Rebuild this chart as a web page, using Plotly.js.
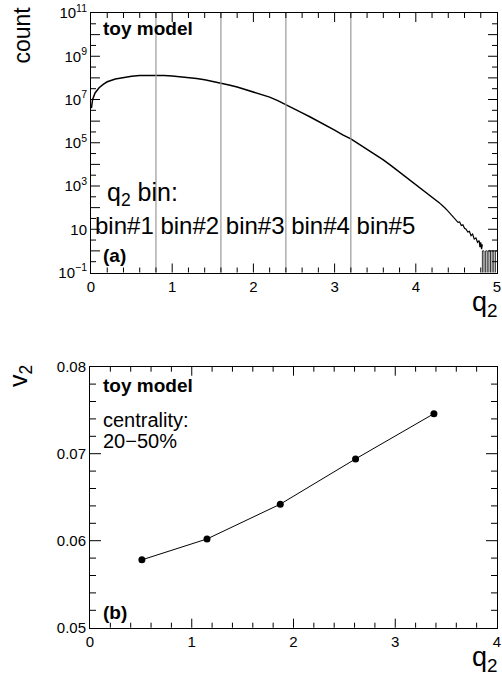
<!DOCTYPE html>
<html>
<head>
<meta charset="utf-8">
<script src="https://cdn.plot.ly/plotly-3.0.1.min.js"></script>
<style>html,body{margin:0;padding:0;background:#fff;}#chart{width:502px;height:682px;}</style>
</head>
<body>
<div id="chart"></div>
<script>
// ---- Panel (a): q2 distribution (counts) ----
const q2Smooth = [0.005, 0.02, 0.05, 0.1, 0.15, 0.2, 0.3, 0.4, 0.5, 0.6, 0.7, 0.8, 0.9, 1.0,
  1.1, 1.2, 1.3, 1.4, 1.5, 1.6, 1.7, 1.8, 1.9, 2.0, 2.1, 2.2, 2.3, 2.4, 2.5, 2.6, 2.7, 2.8,
  2.9, 3.0, 3.1, 3.2, 3.3, 3.4, 3.5, 3.6, 3.7, 3.8, 3.9, 4.0, 4.1, 4.2, 4.3];
const countSmooth = [4.0e6, 1.0e7, 2.0e7, 3.5e7, 5.0e7, 6.6e7, 8.9e7, 1.07e8, 1.20e8, 1.29e8, 1.32e8, 1.32e8, 1.29e8, 1.23e8,
  1.15e8, 1.05e8, 9.3e7, 8.1e7, 6.9e7, 5.8e7, 4.7e7, 3.8e7, 2.95e7, 2.3e7, 1.74e7, 1.29e7, 8.9e6, 5.9e6, 3.7e6, 2.4e6, 1.55e6, 1.0e6,
  6.2e5, 3.8e5, 2.3e5, 1.5e5, 8.7e4, 5.1e4, 2.9e4, 1.6e4, 8.5e3, 4.4e3, 2.2e3, 1.1e3, 600, 310, 155];
// noisy falling tail
const q2Noisy = [4.30, 4.32, 4.34, 4.36, 4.38, 4.40, 4.42, 4.44, 4.46, 4.48, 4.50, 4.52, 4.54, 4.56, 4.58,
  4.60, 4.62, 4.64, 4.66, 4.68, 4.70, 4.72, 4.74, 4.76, 4.78, 4.79, 4.80, 4.81, 4.82];
const countNoisy = [155, 135, 118, 96, 80, 66, 55, 44, 39, 30, 27, 21, 22, 15, 16,
  11, 10, 7.5, 8, 5, 6, 3.5, 4, 2.5, 3, 1.5, 2.5, 1.2, 2];
// sparse last bins (count 1 or empty)
const q2Sparse = [4.82, 4.84, 4.86, 4.88, 4.90, 4.92, 4.94, 4.96, 4.98, 5.00];
const countSparse = [0, 1, 0, 1, 0, 1, 0, 1, 0, 1];
const binEdges = [0.8, 1.6, 2.4, 3.2];
const logTickPowers = [-1, 0, 1, 2, 3, 4, 5, 6, 7, 8, 9, 10, 11];
const logTickLabels = ["10<sup>\u22121</sup>", "", "10", "", "10<sup>3</sup>", "", "10<sup>5</sup>", "",
  "10<sup>7</sup>", "", "10<sup>9</sup>", "", "10<sup>11</sup>"];

// ---- Panel (b): v2 vs q2 ----
const q2Mean = [0.51, 1.15, 1.87, 2.61, 3.38];
const v2Values = [0.0578, 0.0602, 0.0642, 0.0694, 0.0746];

const W = 502, H = 682;
const fx = p => p / W;
const fy = p => 1 - p / H;
const FONT = "Liberation Sans, Arial, Helvetica, sans-serif";
const ZERO_FLOOR = 1e-3; // empty bins drop below the axis floor

// panel frames in pixels
const TOP = {l: 91, r: 497, t: 13, b: 272.5};
const BOT = {l: 90, r: 497, t: 366.7, b: 627.7};

const traces = [
  {x: q2Smooth, y: countSmooth, xaxis: 'x', yaxis: 'y', mode: 'lines',
   line: {color: '#000', width: 1.5}, hoverinfo: 'skip'},
  {x: q2Noisy, y: countNoisy, xaxis: 'x', yaxis: 'y', mode: 'lines',
   line: {color: '#000', width: 1.2}, hoverinfo: 'skip'},
  {x: q2Sparse, y: countSparse.map(c => c > 0 ? c : ZERO_FLOOR), xaxis: 'x', yaxis: 'y', mode: 'lines',
   line: {color: '#000', width: 0.8, shape: 'vh'}, hoverinfo: 'skip'},
  {x: q2Mean, y: v2Values, xaxis: 'x2', yaxis: 'y2', mode: 'lines+markers',
   line: {color: '#000', width: 1}, marker: {color: '#000', size: 7}, hoverinfo: 'skip'}
];

const axBase = {showline: true, linecolor: 'black', linewidth: 1, mirror: true, ticks: '',
  showgrid: false, zeroline: false, tickfont: {family: FONT, size: 15, color: '#000'}};

// tick marks (axis furniture), drawn on the axis scales with lengths as domain fractions
const steps = (a, b, s) => { const out = []; for (let i = 0; a + i * s <= b + 1e-9; i++) out.push(+(a + i * s).toFixed(6)); return out; };
const TICK = {color: '#000', width: 1};
const xTicks = (xr, yr, vals, len, hPx) => vals.flatMap(v => [
  {type: 'line', xref: xr, yref: yr + ' domain', x0: v, x1: v, y0: 0, y1: len / hPx, line: TICK},
  {type: 'line', xref: xr, yref: yr + ' domain', x0: v, x1: v, y0: 1, y1: 1 - len / hPx, line: TICK}]);
const yTicks = (xr, yr, vals, len, wPx) => vals.flatMap(v => [
  {type: 'line', xref: xr + ' domain', yref: yr, x0: 0, x1: len / wPx, y0: v, y1: v, line: TICK},
  {type: 'line', xref: xr + ' domain', yref: yr, x0: 1, x1: 1 - len / wPx, y0: v, y1: v, line: TICK}]);
const notInt = v => Math.abs(v - Math.round(v)) > 1e-6;
const topH = TOP.b - TOP.t, topW = TOP.r - TOP.l, botH = BOT.b - BOT.t, botW = BOT.r - BOT.l;

const shapes = [].concat(
  binEdges.map(e => ({type: 'line', xref: 'x', yref: 'y domain', x0: e, x1: e, y0: 0, y1: 1, line: {color: '#999', width: 1.2}})),
  xTicks('x', 'y', steps(1, 4, 1), 9, topH),
  xTicks('x', 'y', steps(0.2, 4.8, 0.2).filter(notInt), 5, topH),
  yTicks('x', 'y', logTickPowers.slice(1, -1).map(p => Math.pow(10, p)), 9, topW),
  yTicks('x', 'y', logTickPowers.slice(0, -1).map(p => Math.pow(10, p + 0.5)), 5, topW),
  xTicks('x2', 'y2', steps(1, 3, 1), 9, botH),
  xTicks('x2', 'y2', steps(0.2, 3.8, 0.2).filter(notInt), 5, botH),
  yTicks('x2', 'y2', [0.06, 0.07], 11, botW),
  yTicks('x2', 'y2', steps(0.052, 0.078, 0.002).filter(v => notInt(v * 100)), 6, botW)
);

const ann = (text, px, py, size, bold, extra) => Object.assign({
  text: bold ? '<b>' + text + '</b>' : text, xref: 'paper', yref: 'paper', x: fx(px), y: fy(py),
  xanchor: 'left', yanchor: 'middle', showarrow: false, borderpad: 0,
  font: {family: FONT, size: size, color: '#000'}}, extra || {});

const annotations = [
  ann('toy model', 102, 29, 19, true),
  ann('q<sub>2</sub> bin:', 106, 194, 25, false),
  ann('bin#1 bin#2 bin#3 bin#4 bin#5', 94, 226, 24, false),
  ann('(a)', 102, 255, 19, true),
  ann('count', 22, 6, 23, false, {xanchor: 'center', yanchor: 'top', textangle: -90}),
  ann('q<sub>2</sub>', 499, 286, 27, false, {xanchor: 'right', yanchor: 'top'}),
  ann('toy model', 102, 385, 19, true),
  ann('centrality:', 102, 420, 20, false),
  ann('20\u221250%', 102, 441, 20, false),
  ann('(b)', 102, 612, 19, true),
  ann('v<sub>2</sub>', 20, 364, 25, false, {xanchor: 'center', yanchor: 'top', textangle: -90}),
  ann('q<sub>2</sub>', 499, 641, 27, false, {xanchor: 'right', yanchor: 'top'})
];

const layout = {
  width: W, height: H, margin: {l: 0, r: 0, t: 0, b: 0},
  paper_bgcolor: '#fff', plot_bgcolor: '#fff', showlegend: false,
  xaxis: Object.assign({}, axBase, {domain: [fx(TOP.l), fx(TOP.r)], range: [0, 5], anchor: 'y', tick0: 0, dtick: 1}),
  yaxis: Object.assign({}, axBase, {domain: [fy(TOP.b), fy(TOP.t)], type: 'log', range: [-1, 11], anchor: 'x',
    tickmode: 'array', tickvals: logTickPowers.map(p => Math.pow(10, p)), ticktext: logTickLabels}),
  xaxis2: Object.assign({}, axBase, {domain: [fx(BOT.l), fx(BOT.r)], range: [0, 4], anchor: 'y2', tick0: 0, dtick: 1}),
  yaxis2: Object.assign({}, axBase, {domain: [fy(BOT.b), fy(BOT.t)], range: [0.05, 0.08], anchor: 'x2',
    tick0: 0.05, dtick: 0.01, tickformat: '.2f'}),
  shapes: shapes,
  annotations: annotations
};

Plotly.newPlot('chart', traces, layout, {staticPlot: true, displayModeBar: false});
</script>
</body>
</html>
